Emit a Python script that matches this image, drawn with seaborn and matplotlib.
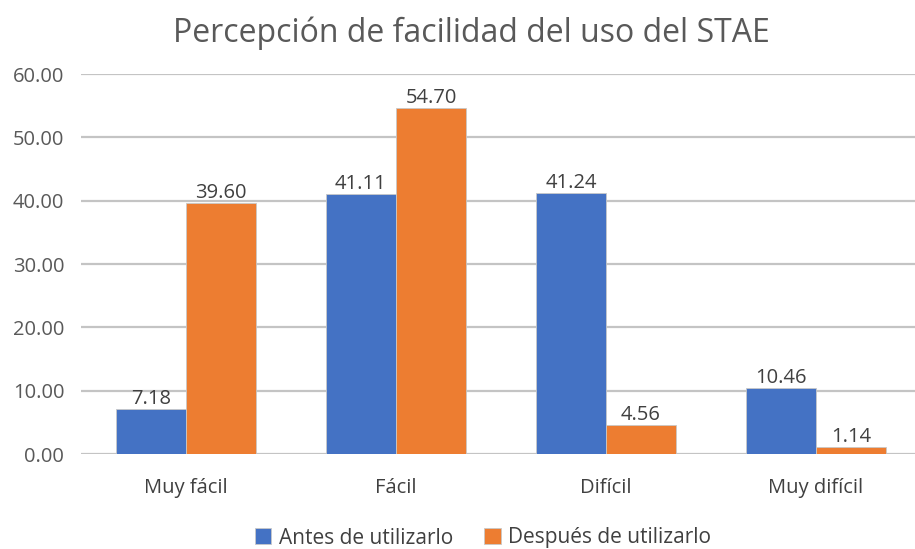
import matplotlib
matplotlib.use("Agg")
import matplotlib.pyplot as plt
import seaborn as sns
import pandas as pd

categories = ["Muy fácil", "Fácil", "Difícil", "Muy difícil"]
series_names = ["Antes de utilizarlo", "Después de utilizarlo"]
antes = [7.18, 41.11, 41.24, 10.46]
despues = [39.60, 54.70, 4.56, 1.14]
yticks = [0, 10, 20, 30, 40, 50, 60]
title = "Percepción de facilidad del uso del STAE"
colors = ["#4472C4", "#ED7D31"]

df = pd.DataFrame({
    "cat": categories * 2,
    "serie": [series_names[0]] * 4 + [series_names[1]] * 4,
    "valor": antes + despues,
})

sns.set_theme(style="white")
plt.rcParams["font.family"] = ["Open Sans", "DejaVu Sans"]

fig = plt.figure(figsize=(9.15, 5.49), dpi=100)
ax = fig.add_axes([81 / 915, (549 - 454) / 549, 840 / 915, (454 - 74) / 549])

sns.barplot(data=df, x="cat", y="valor", hue="serie", palette=colors,
            width=0.667, ax=ax, edgecolor="#c8c8c8", linewidth=0.6,
            saturation=1, legend=True, zorder=3)

ax.set_ylim(0, 60)
ax.set_xlim(-0.5, 3.5)
ax.set_yticks(yticks)
ax.set_yticklabels([f"{v:.2f}" for v in yticks], color="#595959", fontsize=14.5)
ax.tick_params(axis="x", colors="#404040", labelsize=14.5, length=0, pad=17)
ax.tick_params(axis="y", length=0, pad=12)
ax.set_xlabel("")
ax.set_ylabel("")
ax.grid(axis="y", color="#c4c4c4", linewidth=1.6, zorder=0)
for s in ax.spines.values():
    s.set_visible(False)

for cont in ax.containers:
    ax.bar_label(cont, fmt="%.2f", padding=0, color="#404040", fontsize=14.5)

fig.text(471 / 915, 1 - 33 / 549, title, ha="center", va="center",
         fontsize=23, color="#595959")

handles, labels = ax.get_legend_handles_labels()
ax.legend_.remove()
fig.legend(handles, labels, loc="center", bbox_to_anchor=(483 / 915, 1 - 538 / 549),
           ncol=2, frameon=False, fontsize=15, handlelength=0.8, handleheight=0.8,
           handletextpad=0.35, columnspacing=1.5, labelcolor="#404040")

fig.savefig("out.png", dpi=100)
